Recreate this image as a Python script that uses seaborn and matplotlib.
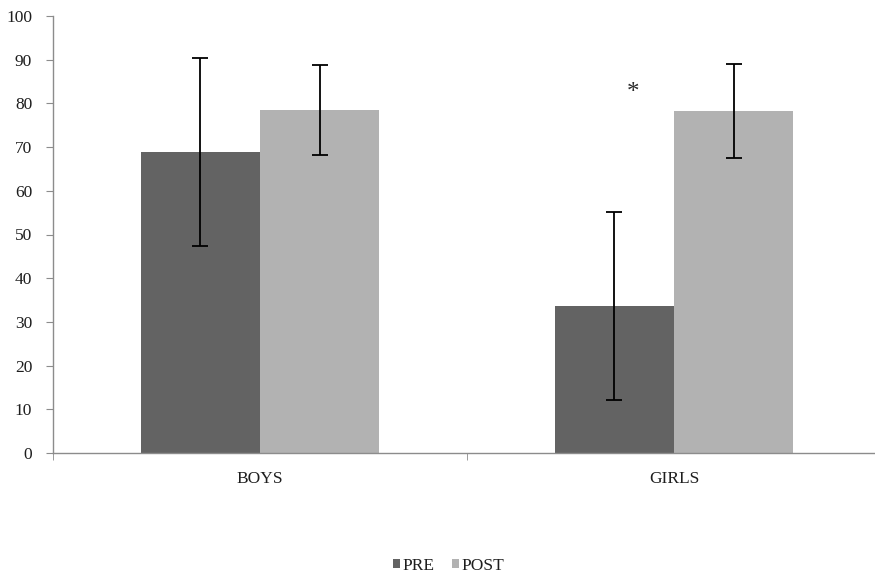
import matplotlib
matplotlib.use("Agg")
import matplotlib.pyplot as plt
from matplotlib.patches import Patch
import seaborn as sns
import pandas as pd

# Group means and standard deviations
groups = ["BOYS", "GIRLS"]
phases = ["PRE", "POST"]
pre_means = [68.9, 33.7]
post_means = [78.5, 78.3]
pre_sd = [21.5, 21.5]
post_sd = [10.4, 10.7]
y_ticks = [0, 10, 20, 30, 40, 50, 60, 70, 80, 90, 100]

colors = {"PRE": "#636363", "POST": "#b2b2b2"}
axis_col = "#8c8c8c"
text_col = "#1e1e1e"

df = pd.DataFrame({
    "group": groups * 2,
    "phase": ["PRE"] * 2 + ["POST"] * 2,
    "score": pre_means + post_means,
    "sd": pre_sd + post_sd,
})

sns.set_style("white")
plt.rcParams["font.family"] = ["Liberation Serif", "DejaVu Serif"]

fig = plt.figure(figsize=(8.75, 5.77), dpi=100)
ax = fig.add_axes([53 / 875, 1 - 453 / 577, 828 / 875, 437 / 577])

sns.barplot(data=df, x="group", y="score", hue="phase", order=groups,
            hue_order=phases, palette=colors, width=0.575, gap=0,
            errorbar=None, saturation=1, linewidth=0, legend=False, ax=ax)

# Error bars centred on each bar
for patch in ax.patches:
    h = patch.get_height()
    if h <= 0:
        continue
    xc = patch.get_x() + patch.get_width() / 2
    row = df[(df["score"] == h)].iloc[0]
    ax.errorbar(xc, h, yerr=row["sd"], fmt="none", ecolor="black",
                elinewidth=1.3, capsize=5.5, capthick=1.3)

# Significance marker
ax.text(1 - 0.1, 82.3, "*", ha="center", va="center", fontsize=18,
        color="#2a2a2a")

ax.set_xlim(-0.5, 1.5)
ax.set_ylim(0, 100)
ax.set_yticks(y_ticks)
ax.set_xlabel("")
ax.set_ylabel("")

# Category boundary ticks on the x axis
ax.set_xticks([0, 1])
ax.set_xticks([-0.5, 0.5, 1.5], minor=True)
ax.tick_params(axis="x", which="major", length=0, labelsize=12.5,
               pad=13, colors=text_col)
ax.tick_params(axis="x", which="minor", length=5, color=axis_col,
               direction="out", bottom=True)
ax.tick_params(axis="y", length=5, color=axis_col, direction="out",
               labelsize=12.5, labelcolor=text_col, left=True, pad=10)

for side in ["top", "right"]:
    ax.spines[side].set_visible(False)
for side in ["left", "bottom"]:
    ax.spines[side].set_color(axis_col)
    ax.spines[side].set_linewidth(1.0)

handles = [Patch(facecolor=colors[p], edgecolor="none", label=p) for p in phases]
fig.legend(handles=handles, loc="center", bbox_to_anchor=(0.513, 1 - 566 / 577),
           ncol=2, frameon=False, fontsize=12.5, handlelength=0.4,
           handleheight=0.4, handletextpad=0.15, columnspacing=1.0,
           labelcolor=text_col)

fig.savefig("out.png", dpi=100)
